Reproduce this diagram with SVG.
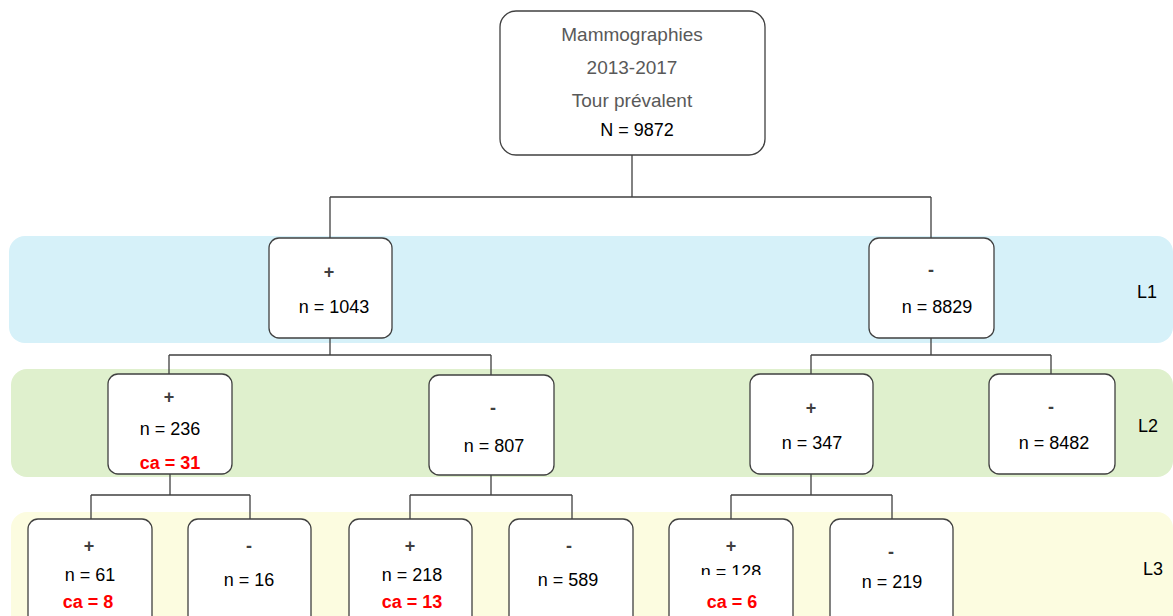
<svg xmlns="http://www.w3.org/2000/svg" width="1173" height="616" viewBox="0 0 1173 616">
<style>
.band1{fill:#d6f1f9}
.band2{fill:#dff0cd}
.band3{fill:#fcfce0}
.box{fill:#ffffff;stroke:#404040;stroke-width:1.3}
.conn{fill:none;stroke:#404040;stroke-width:1.3}
.t{font-family:"Liberation Sans",Arial,sans-serif;font-size:18px;fill:#000;text-anchor:middle}
.g{font-family:"Liberation Sans",Arial,sans-serif;font-size:19px;fill:#595959;text-anchor:middle}
.s{font-family:"Liberation Sans",Arial,sans-serif;font-size:18px;font-weight:bold;fill:#404040;text-anchor:middle}
.ca{font-family:"Liberation Sans",Arial,sans-serif;font-size:18px;font-weight:bold;fill:#ff0000;text-anchor:middle}
.lab{font-family:"Liberation Sans",Arial,sans-serif;font-size:18px;fill:#000;text-anchor:middle}
</style>
<defs>
<clipPath id="clip128"><rect x="669" y="519" width="124" height="56"/></clipPath>
</defs>
<rect width="1173" height="616" fill="#ffffff"/>
<g id="bands">
<rect class="band1" x="9" y="236" width="1164" height="107" rx="16"/>
<rect class="band2" x="11" y="369" width="1162" height="108" rx="16"/>
<rect class="band3" x="11" y="512" width="1162" height="120" rx="16"/>
<text class="lab" x="1147" y="298">L1</text>
<text class="lab" x="1148" y="432">L2</text>
<text class="lab" x="1153" y="575">L3</text>
</g>
<g id="connectors">
<path class="conn" d="M632,155 V197 M330,197 H931 M330,197 V238 M931,197 V238"/>
<path class="conn" d="M330,338 V355 M169,355 H491 M169,355 V374 M491,355 V375"/>
<path class="conn" d="M931,338 V355 M811,355 H1051 M811,355 V374 M1051,355 V374"/>
<path class="conn" d="M170,474 V495 M91,495 H250 M91,495 V519 M250,495 V519"/>
<path class="conn" d="M491,475 V495 M410,495 H572 M410,495 V519 M572,495 V519"/>
<path class="conn" d="M811,474 V495 M731,495 H892 M731,495 V519 M892,495 V519"/>
</g>
<g id="root">
<rect class="box" x="500" y="11" width="265" height="144" rx="16"/>
<text class="g" x="632" y="41">Mammographies</text>
<text class="g" x="632" y="74">2013-2017</text>
<text class="g" x="632" y="107">Tour prévalent</text>
<text class="t" x="637" y="136">N = 9872</text>
</g>
<g id="l1pos">
<rect class="box" x="269" y="238" width="123" height="100" rx="10"/>
<text class="s" x="329" y="278">+</text>
<text class="t" x="334" y="313">n = 1043</text>
</g>
<g id="l1neg">
<rect class="box" x="869" y="238" width="125" height="100" rx="10"/>
<text class="s" x="931" y="276">-</text>
<text class="t" x="937" y="313">n = 8829</text>
</g>
<g id="l2pos1">
<rect class="box" x="108" y="374" width="124" height="100" rx="10"/>
<text class="s" x="169" y="403">+</text>
<text class="t" x="170" y="435">n = 236</text>
<text class="ca" x="170" y="469">ca = 31</text>
</g>
<g id="l2neg1">
<rect class="box" x="429" y="375" width="125" height="100" rx="10"/>
<text class="s" x="493" y="414">-</text>
<text class="t" x="494" y="452">n = 807</text>
</g>
<g id="l2pos2">
<rect class="box" x="750" y="374" width="123" height="100" rx="10"/>
<text class="s" x="811" y="414">+</text>
<text class="t" x="812" y="449">n = 347</text>
</g>
<g id="l2neg2">
<rect class="box" x="989" y="374" width="126" height="100" rx="10"/>
<text class="s" x="1051" y="413">-</text>
<text class="t" x="1054" y="449">n = 8482</text>
</g>
<g id="l3a">
<rect class="box" x="28" y="519" width="124" height="110" rx="10"/>
<text class="s" x="89" y="552">+</text>
<text class="t" x="90" y="581">n = 61</text>
<text class="ca" x="88" y="608">ca = 8</text>
</g>
<g id="l3b">
<rect class="box" x="188" y="519" width="123" height="110" rx="10"/>
<text class="s" x="249" y="552">-</text>
<text class="t" x="249" y="586">n = 16</text>
</g>
<g id="l3c">
<rect class="box" x="349" y="519" width="123" height="110" rx="10"/>
<text class="s" x="410" y="552">+</text>
<text class="t" x="412" y="581">n = 218</text>
<text class="ca" x="412" y="608">ca = 13</text>
</g>
<g id="l3d">
<rect class="box" x="509" y="519" width="124" height="110" rx="10"/>
<text class="s" x="569" y="552">-</text>
<text class="t" x="568" y="586">n = 589</text>
</g>
<g id="l3e">
<rect class="box" x="669" y="519" width="124" height="110" rx="10"/>
<text class="s" x="731" y="552">+</text>
<text class="t" x="731" y="578" clip-path="url(#clip128)">n = 128</text>
<text class="ca" x="732" y="608">ca = 6</text>
</g>
<g id="l3f">
<rect class="box" x="830" y="519" width="123" height="110" rx="10"/>
<text class="s" x="891" y="558">-</text>
<text class="t" x="892" y="588">n = 219</text>
</g>
</svg>
